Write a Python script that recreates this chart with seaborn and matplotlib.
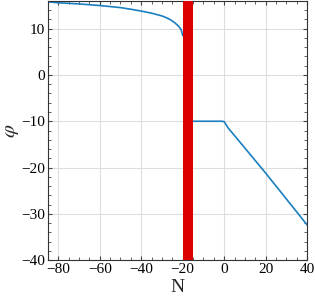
import numpy as np
import pandas as pd
import seaborn as sns
import matplotlib.pyplot as plt
from matplotlib.ticker import MultipleLocator

# Left branch (N < -20)
n_left = [-85, -80, -70, -60, -50, -45, -40, -35, -30, -28, -26, -24, -22, -21, -20.5, -20]
phi_left = [15.8, 15.6, 15.35, 15.0, 14.55, 14.2, 13.8, 13.35, 12.75, 12.4, 11.95, 11.35, 10.55, 9.95, 9.45, 8.5]
# Right branch (N > -15)
n_right = [-15, -10, -5, -1, 0, 1, 2, 5, 10, 20, 30, 40]
phi_right = [-10, -10, -10, -10, -10.1, -10.8, -11.5, -13.1, -15.8, -21.2, -26.8, -32.4]
band = (-20, -15)
xticks = [-80, -60, -40, -20, 0, 20, 40]
yticks = [-40, -30, -20, -10, 0, 10]

sns.set_theme(style="whitegrid")
plt.rcParams['font.family'] = ['Liberation Serif', 'DejaVu Serif']
plt.rcParams['mathtext.fontset'] = 'stix'

fig, ax = plt.subplots(figsize=(3.15, 3.0), dpi=100)
df_l = pd.DataFrame({"N": n_left, "phi": phi_left})
df_r = pd.DataFrame({"N": n_right, "phi": phi_right})
sns.lineplot(data=df_l, x="N", y="phi", ax=ax, color="#1a7fc0", lw=1.2)
sns.lineplot(data=df_r, x="N", y="phi", ax=ax, color="#1a7fc0", lw=1.2)
ax.axvspan(band[0], band[1], color="#dd0000", lw=0, zorder=3)

ax.set_xlim(-85, 40)
ax.set_ylim(-40, 16)
ax.set_xticks(xticks)
ax.set_yticks(yticks)
ax.xaxis.set_minor_locator(MultipleLocator(5))
ax.yaxis.set_minor_locator(MultipleLocator(2))
ax.set_xticklabels([f"\u2212{-t}" if t < 0 else str(t) for t in xticks], fontsize=11)
ax.set_yticklabels([f"\u2212{-t}" if t < 0 else str(t) for t in yticks], fontsize=11)
ax.tick_params(which='both', direction='in', top=True, right=True, bottom=True, left=True,
               color='#444444', labelcolor='black', pad=2)
ax.tick_params(which='major', length=3, width=0.8)
ax.tick_params(which='minor', length=2, width=0.6)
ax.grid(True, which='major', color='#dddddd', lw=0.8)
for s in ax.spines.values():
    s.set_color('#333333')
    s.set_linewidth(0.8)
ax.set_xlabel("N", fontsize=14, labelpad=2)
ax.set_ylabel(r"$\varphi$", fontsize=15, labelpad=0)
fig.subplots_adjust(left=0.152, right=0.975, top=0.997, bottom=0.133)
fig.savefig("out.png", dpi=100)
